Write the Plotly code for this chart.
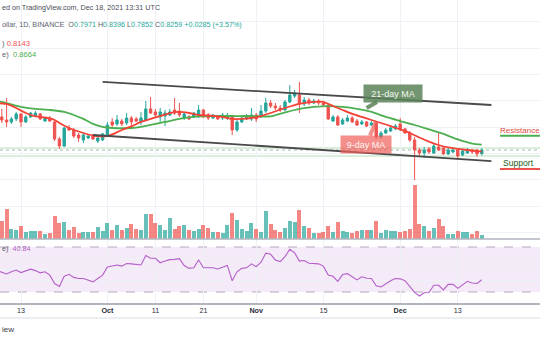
import plotly.graph_objects as go
import pandas as pd

# ---------------- data ----------------
dates = pd.date_range("2021-09-08", periods=102, freq="D")

open_p = [1.176, 1.077, 1.054, 1.039, 1.062, 1.100, 1.039, 1.077, 1.084, 1.100,
          1.046, 1.069, 1.039, 0.910, 0.856, 0.993, 0.978, 0.940, 0.902, 0.917,
          0.932, 0.894, 0.902, 0.932, 1.039, 1.024, 1.046, 1.031, 1.069, 1.062,
          1.039, 1.054, 1.138, 1.115, 1.077, 1.084, 1.092, 1.130, 1.122, 1.069,
          1.077, 1.077, 1.084, 1.130, 1.092, 1.069, 1.077, 1.069, 1.069, 1.084,
          0.978, 1.039, 1.062, 1.062, 1.092, 1.077, 1.122, 1.183, 1.160, 1.145,
          1.130, 1.191, 1.236, 1.244, 1.176, 1.206, 1.183, 1.198, 1.183, 1.168,
          1.046, 1.077, 1.024, 1.046, 1.069, 1.046, 1.024, 1.039, 1.016, 1.031,
          0.925, 0.955, 0.970, 0.986, 1.024, 0.986, 0.955, 0.902, 0.826, 0.803,
          0.834, 0.803, 0.849, 0.841, 0.796, 0.811, 0.826, 0.788, 0.803, 0.826,
          0.826, 0.7971]
close_p = [1.084, 1.054, 1.039, 1.062, 1.100, 1.039, 1.077, 1.107, 1.107, 1.062,
           1.069, 1.046, 0.910, 0.856, 0.993, 0.978, 0.932, 0.917, 0.940, 0.932,
           0.910, 0.917, 0.948, 1.016, 1.016, 1.054, 1.024, 1.069, 1.039, 1.046,
           1.069, 1.138, 1.107, 1.092, 1.115, 1.107, 1.115, 1.107, 1.092, 1.100,
           1.062, 1.107, 1.130, 1.077, 1.069, 1.092, 1.062, 1.092, 1.084, 0.978,
           1.039, 1.069, 1.084, 1.092, 1.062, 1.122, 1.183, 1.160, 1.145, 1.130,
           1.191, 1.244, 1.259, 1.176, 1.206, 1.183, 1.198, 1.183, 1.168, 1.062,
           1.077, 1.016, 1.054, 1.069, 1.039, 1.016, 1.039, 1.008, 1.031, 0.925,
           0.955, 0.978, 0.993, 1.008, 0.986, 0.955, 0.902, 0.826, 0.803, 0.826,
           0.811, 0.856, 0.826, 0.796, 0.826, 0.826, 0.780, 0.818, 0.826, 0.811,
           0.796, 0.8259]
high_p = [1.206, 1.138, 1.221, 1.077, 1.115, 1.107, 1.092, 1.115, 1.122, 1.107,
          1.077, 1.084, 1.046, 0.925, 1.001, 1.016, 0.993, 0.955, 0.955, 0.948,
          0.948, 0.925, 0.955, 1.039, 1.069, 1.092, 1.062, 1.107, 1.084, 1.077,
          1.115, 1.198, 1.229, 1.138, 1.145, 1.130, 1.138, 1.221, 1.183, 1.107,
          1.092, 1.115, 1.168, 1.138, 1.107, 1.100, 1.092, 1.107, 1.107, 1.092,
          1.054, 1.084, 1.100, 1.145, 1.107, 1.168, 1.221, 1.206, 1.183, 1.168,
          1.206, 1.320, 1.282, 1.343, 1.229, 1.221, 1.214, 1.214, 1.198, 1.176,
          1.092, 1.092, 1.069, 1.092, 1.084, 1.062, 1.054, 1.046, 1.046, 1.039,
          0.970, 0.993, 1.008, 1.024, 1.069, 0.993, 0.970, 0.925, 0.841, 0.849,
          0.849, 0.872, 0.955, 0.856, 0.841, 0.841, 0.841, 0.834, 0.841, 0.834,
          0.834, 0.8396]
low_p = [1.069, 1.031, 1.001, 1.024, 1.046, 1.001, 1.031, 1.069, 1.077, 1.054,
         1.039, 1.039, 0.894, 0.834, 0.849, 0.970, 0.917, 0.887, 0.879, 0.910,
         0.902, 0.879, 0.894, 0.925, 1.001, 1.008, 1.008, 1.016, 1.008, 1.039,
         1.016, 1.046, 1.100, 1.077, 1.039, 1.008, 1.084, 1.092, 1.077, 1.054,
         1.054, 1.069, 1.069, 1.069, 1.054, 1.062, 1.054, 1.054, 1.054, 0.940,
         0.963, 1.031, 1.054, 1.046, 1.039, 1.069, 1.107, 1.145, 1.130, 1.115,
         1.122, 1.183, 1.221, 1.107, 1.160, 1.168, 1.176, 1.168, 1.153, 1.054,
         1.039, 1.008, 1.016, 1.039, 1.031, 1.008, 1.016, 1.001, 1.008, 0.910,
         0.910, 0.948, 0.963, 0.978, 0.970, 0.948, 0.887, 0.598, 0.780, 0.765,
         0.796, 0.796, 0.818, 0.788, 0.788, 0.803, 0.758, 0.780, 0.796, 0.796,
         0.773, 0.7852]
volume_m = [15, 18.5, 30.5, 10.5, 9.5, 13.5, 7.5, 8.5, 8.5, 8.5,
            5.5, 6.5, 23.5, 16.5, 17.5, 9.5, 12.5, 6.5, 7.5, 7.5,
            7.5, 12.5, 8.5, 16.5, 9.5, 14.5, 9.5, 11.5, 15.5, 10.5,
            9.5, 25.5, 25.5, 16.5, 14.5, 9.5, 21.5, 10.5, 13.5, 14.5,
            9.5, 8.5, 10.5, 14.5, 11.5, 7.5, 7.5, 6.5, 14.5, 26.5,
            19.5, 10.5, 8.5, 16.5, 10.5, 7.5, 28.5, 15.5, 9.5, 7.5,
            11.5, 18.5, 17.5, 29.5, 13.5, 11.5, 6.5, 6.5, 7.5, 13.5,
            7.5, 17.5, 8.5, 7.5, 6.5, 8.5, 9.5, 9.5, 9.5, 18.5,
            6.5, 9.5, 8.5, 8.5, 7.5, 8.5, 10.5, 54.5, 15.5, 13.5,
            8.5, 11.5, 20.5, 13.5, 5.5, 5.5, 8.5, 7.5, 7.5, 5.5,
            8.5, 4.5]
rsi = [49, 47.5, 46, 48, 49.5, 47.3, 48.5, 50.3, 49, 47,
       48, 45, 37.5, 35, 44, 45.7, 43, 42, 42, 40.5,
       39, 42, 45, 52.3, 53, 54, 53, 55.3, 55, 54.6,
       54, 62.5, 60, 60, 56, 57.6, 58.8, 59, 59.6, 53.5,
       51, 51.5, 58.5, 51.5, 51.5, 51.5, 50.5, 52, 53.6, 40,
       48, 51, 51.5, 55, 52.5, 56.5, 64.5, 63.5, 58.5, 57,
       61.5, 68, 64.8, 57.5, 58, 55.5, 55, 55, 53, 45,
       44, 39.5, 45.5, 46.3, 43.5, 40.7, 43.5, 42.2, 42, 35.5,
       34.5, 37.5, 40, 42, 41.7, 40, 34.8, 29.7, 26.4, 29.3,
       29.5, 36, 36, 31.8, 36.8, 36.8, 33.2, 36.7, 39.5, 38,
       37.6, 40.84]

ma9_dates = ["2021-09-08", "2021-09-10", "2021-09-12", "2021-09-14", "2021-09-16",
             "2021-09-18", "2021-09-19", "2021-09-20", "2021-09-21", "2021-09-23",
             "2021-09-24", "2021-09-26", "2021-09-28", "2021-09-30", "2021-10-01",
             "2021-10-02", "2021-10-04", "2021-10-06", "2021-10-08", "2021-10-10",
             "2021-10-12", "2021-10-14", "2021-10-16", "2021-10-18", "2021-10-20",
             "2021-10-22", "2021-10-24", "2021-10-26", "2021-10-27", "2021-10-29",
             "2021-10-31", "2021-11-02", "2021-11-04", "2021-11-07", "2021-11-10",
             "2021-11-13", "2021-11-15", "2021-11-17", "2021-11-19", "2021-11-21",
             "2021-11-23", "2021-11-25", "2021-11-27", "2021-11-29", "2021-12-01",
             "2021-12-03", "2021-12-05", "2021-12-07", "2021-12-09", "2021-12-11",
             "2021-12-13", "2021-12-15", "2021-12-18"]
ma9 = [1.183, 1.176, 1.145, 1.107, 1.081, 1.073, 1.066, 1.054, 1.031, 0.993,
       0.978, 0.955, 0.936, 0.929, 0.932, 0.944, 0.978, 1.005, 1.039, 1.062,
       1.084, 1.107, 1.115, 1.107, 1.092, 1.088, 1.081, 1.069, 1.062, 1.062,
       1.069, 1.084, 1.107, 1.145, 1.176, 1.191, 1.191, 1.160, 1.130, 1.100,
       1.077, 1.054, 1.031, 1.008, 0.982, 0.955, 0.921, 0.890, 0.864, 0.845,
       0.834, 0.826, 0.8143]

ma21_dates = ["2021-09-08", "2021-09-10", "2021-09-13", "2021-09-16", "2021-09-19",
              "2021-09-22", "2021-09-24", "2021-09-26", "2021-09-28", "2021-09-30",
              "2021-10-02", "2021-10-06", "2021-10-08", "2021-10-10", "2021-10-13",
              "2021-10-16", "2021-10-19", "2021-10-22", "2021-10-28", "2021-11-01",
              "2021-11-04", "2021-11-07", "2021-11-10", "2021-11-13", "2021-11-16",
              "2021-11-19", "2021-11-22", "2021-11-25", "2021-11-28", "2021-12-01",
              "2021-12-04", "2021-12-07", "2021-12-10", "2021-12-13", "2021-12-16",
              "2021-12-18"]
ma21 = [1.198, 1.183, 1.153, 1.138, 1.130, 1.115, 1.092, 1.062, 1.024, 1.001,
        0.993, 0.993, 1.001, 1.016, 1.039, 1.062, 1.077, 1.084, 1.084, 1.084,
        1.081, 1.111, 1.138, 1.153, 1.160, 1.153, 1.138, 1.115, 1.077, 1.046,
        1.016, 0.982, 0.948, 0.906, 0.875, 0.8664]

channel_upper_dates = ["2021-09-30", "2021-12-20"]
channel_upper = [1.343, 1.168]
channel_lower_dates = ["2021-09-28", "2021-12-20"]
channel_lower = [0.940, 0.742]

level_lines = [0.841, 0.780]
last_close = 0.8259

tick_dates = ["2021-09-13", "2021-10-01", "2021-10-11", "2021-10-21",
              "2021-11-01", "2021-11-15", "2021-12-01", "2021-12-13"]
tick_labels = ["13", "<b>Oct</b>", "11", "21", "<b>Nov</b>", "15", "<b>Dec</b>", "13"]

# ---------------- styling ----------------
UP = "#26a69a"
DOWN = "#ef5350"
GRID = "#eef1f6"
FONT = "Liberation Sans"
W, H = 540, 340
main_bottom = 1 - 239 / H
rsi_bottom = 1 - 303 / H

vol_colors = ["rgba(38,166,154,0.7)" if c >= o else "rgba(239,83,80,0.7)"
              for o, c in zip(open_p, close_p)]

fig = go.Figure()

fig.add_trace(go.Bar(x=dates, y=volume_m, marker_color=vol_colors, marker_line_width=0,
                     width=0.8 * 86400000, xaxis="x", yaxis="y3", showlegend=False))

fig.add_trace(go.Candlestick(x=dates, open=open_p, high=high_p, low=low_p, close=close_p,
                             increasing=dict(line=dict(color=UP, width=1), fillcolor=UP),
                             decreasing=dict(line=dict(color=DOWN, width=1), fillcolor=DOWN),
                             whiskerwidth=0, xaxis="x", yaxis="y", showlegend=False))

fig.add_trace(go.Scatter(x=ma21_dates, y=ma21, mode="lines",
                         line=dict(color="#4caf50", width=1.8, shape="spline", smoothing=0.6),
                         xaxis="x", yaxis="y", showlegend=False))
fig.add_trace(go.Scatter(x=ma9_dates, y=ma9, mode="lines",
                         line=dict(color="#f44336", width=1.8, shape="spline", smoothing=0.4),
                         xaxis="x", yaxis="y", showlegend=False))

fig.add_trace(go.Scatter(x=channel_upper_dates, y=channel_upper, mode="lines",
                         line=dict(color="#4a4a4a", width=1.8), xaxis="x", yaxis="y",
                         showlegend=False))
fig.add_trace(go.Scatter(x=channel_lower_dates, y=channel_lower, mode="lines",
                         line=dict(color="#4a4a4a", width=1.8), xaxis="x", yaxis="y",
                         showlegend=False))

fig.add_trace(go.Scatter(x=dates, y=rsi, mode="lines", line=dict(color="#b45fc9", width=1.1),
                         xaxis="x2", yaxis="y2", showlegend=False))

shapes = []
for lv in level_lines:
    shapes.append(dict(type="line", xref="paper", yref="y", x0=0, x1=1, y0=lv, y1=lv,
                       line=dict(color="#cfe8cf", width=1.5), layer="below"))
shapes.append(dict(type="line", xref="paper", yref="y", x0=0, x1=1, y0=last_close, y1=last_close,
                   line=dict(color="#9fb8b0", width=1, dash="dot"), layer="below"))
# RSI band
shapes.append(dict(type="rect", xref="paper", yref="y2", x0=0, x1=1, y0=30, y1=70,
                   fillcolor="rgba(186,104,200,0.14)", line=dict(width=0), layer="below"))
for lv in (70, 30):
    shapes.append(dict(type="line", xref="paper", yref="y2", x0=0, x1=1, y0=lv, y1=lv,
                       line=dict(color="#b4a8bf", width=1, dash="dash"), layer="below"))
# pane separators
shapes.append(dict(type="line", xref="paper", yref="paper", x0=0, x1=1,
                   y0=main_bottom, y1=main_bottom, line=dict(color="#b2b5be", width=1.5)))
shapes.append(dict(type="line", xref="paper", yref="paper", x0=0, x1=1,
                   y0=1 - 318 / H, y1=1 - 318 / H, line=dict(color="#e6e8ee", width=1.5)))
# support / resistance underlines
shapes.append(dict(type="line", xref="paper", yref="paper", x0=500 / W, x1=1,
                   y0=1 - 135.7 / H, y1=1 - 135.7 / H, line=dict(color="#4caf50", width=2)))
shapes.append(dict(type="line", xref="paper", yref="paper", x0=500 / W, x1=1,
                   y0=1 - 169 / H, y1=1 - 169 / H, line=dict(color="#ef5350", width=2)))

GRAY = "#5d606b"
TEAL = "#26a69a"
ann = []
ann.append(dict(xref="paper", yref="paper", x=0, y=1 - 7.5 / H, xanchor="left", yanchor="middle",
                text="ed on TradingView.com, Dec 18, 2021 13:31 UTC", showarrow=False,
                font=dict(family=FONT, size=7.2, color="#4a4d57")))
legend_txt = ("ollar, 1D, BINANCE  O<span style='color:%s'>0.7971</span> "
              "H<span style='color:%s'>0.8396</span> L<span style='color:%s'>0.7852</span> "
              "C<span style='color:%s'>0.8259</span> "
              "<span style='color:%s'>+0.0285 (+3.57%%)</span>") % (TEAL, TEAL, TEAL, TEAL, TEAL)
ann.append(dict(xref="paper", yref="paper", x=0, y=1 - 25 / H, xanchor="left", yanchor="middle",
                text=legend_txt, showarrow=False, font=dict(family=FONT, size=7.2, color=GRAY)))
ann.append(dict(xref="paper", yref="paper", x=0, y=1 - 43.5 / H, xanchor="left", yanchor="middle",
                text=") <span style='color:#ef5350'>0.8143</span>", showarrow=False,
                font=dict(family=FONT, size=7.6, color=GRAY)))
ann.append(dict(xref="paper", yref="paper", x=0, y=1 - 55 / H, xanchor="left", yanchor="middle",
                text="e)  <span style='color:#4caf50'>0.8664</span>", showarrow=False,
                font=dict(family=FONT, size=7.6, color=GRAY)))
ann.append(dict(xref="paper", yref="paper", x=0, y=1 - 248.5 / H, xanchor="left", yanchor="middle",
                text="e)  <span style='color:#b45fc9'>40.84</span>", showarrow=False,
                font=dict(family=FONT, size=7.2, color=GRAY)))
ann.append(dict(xref="paper", yref="paper", x=0, y=1 - 329.5 / H, xanchor="left",
                yanchor="middle", text="iew", showarrow=False,
                font=dict(family=FONT, size=8, color="#3a3d47")))
ann.append(dict(xref="paper", yref="paper", x=1, y=1 - 130 / H, xanchor="right",
                yanchor="middle", text="Resistance", showarrow=False, borderpad=0,
                borderwidth=0, font=dict(family=FONT, size=8, color="#e04a46")))
ann.append(dict(xref="paper", yref="paper", x=501 / W, y=1 - 163 / H, xanchor="left",
                yanchor="middle", text="Support", showarrow=False,
                font=dict(family=FONT, size=8.6, color="#1e5e22")))
# MA callouts
ann.append(dict(x="2021-11-24", y=1.145, xref="x", yref="y", ax=26, ay=-15,
                text="21-day MA", showarrow=True, arrowhead=0, arrowwidth=4,
                arrowcolor="rgba(90,130,88,0.85)", bgcolor="rgba(90,130,88,0.85)",
                width=56, height=15, font=dict(family=FONT, size=9, color="#f1f8ee"),
                standoff=0))
ann.append(dict(x="2021-11-26", y=1.046, xref="x", yref="y", ax=-10, ay=23.5,
                text="9-day MA", showarrow=True, arrowhead=0, arrowwidth=4,
                arrowcolor="rgba(240,96,90,0.7)", bgcolor="rgba(240,96,90,0.7)",
                width=48, height=15, font=dict(family=FONT, size=9, color="#fff3f2"),
                standoff=0))

xrange = ["2021-09-08 15:00", "2021-12-30 03:00"]

fig.update_layout(
    width=W, height=H, margin=dict(l=0, r=0, t=0, b=0),
    paper_bgcolor="white", plot_bgcolor="white",
    showlegend=False, bargap=0,
    font=dict(family=FONT, color="#131722"),
    xaxis=dict(domain=[0, 1], anchor="y", type="date", range=xrange,
               tickvals=tick_dates, showticklabels=False, showgrid=True,
               gridcolor=GRID, gridwidth=1, zeroline=False, showline=False,
               rangeslider=dict(visible=False)),
    yaxis=dict(domain=[main_bottom, 1], range=[0.1495, 1.9659], tick0=0, dtick=0.2,
               showgrid=True, gridcolor=GRID, showticklabels=False, zeroline=False),
    yaxis3=dict(overlaying="y", range=[0, 239], visible=False, showgrid=False),
    xaxis2=dict(domain=[0, 1], anchor="y2", type="date", matches="x",
                tickvals=tick_dates, ticktext=tick_labels, showgrid=True, gridcolor=GRID,
                showline=True, linecolor="#b2b5be", linewidth=1.5, ticks="",
                tickfont=dict(family=FONT, size=7.2, color="#2a2e39"), zeroline=False),
    yaxis2=dict(domain=[rsi_bottom, main_bottom], range=[20.22, 77.11],
                tickvals=[40, 50, 60], showgrid=True, gridcolor=GRID,
                showticklabels=False, zeroline=False),
    shapes=shapes, annotations=ann,
)

fig.write_html("out.html")
